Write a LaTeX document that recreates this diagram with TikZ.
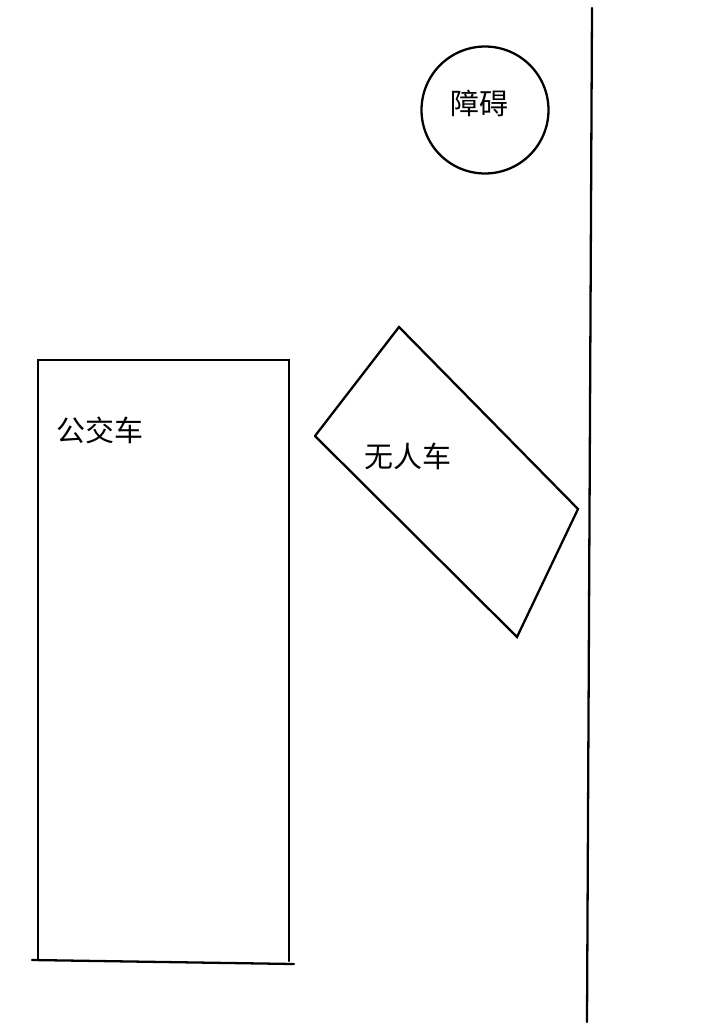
\documentclass[tikz,border=0pt]{standalone}
\usepackage{fontspec}
\newfontfamily\cjk{Noto Sans CJK SC}
\usepackage{tikz}

\begin{document}
\begin{tikzpicture}[x=0.02cm,y=-0.02cm]
			\tikzstyle{outline} = [line width=1.3pt, line cap=round]
			\tikzstyle{label} = [font=\cjk\fontsize{16.5}{20}\selectfont, inner sep=0pt]
			\tikzstyle{obstacle} = [circle, draw, line width=1.3pt, minimum size=2.54cm, inner sep=0pt]
			
			\useasboundingbox (0,0) rectangle (719,1024);
			
			% road edge
			\coordinate (roadtop) at (592,8);
			\coordinate (roadbottom) at (587,1022);
			\draw[outline](roadtop) to (roadbottom);
			
			\node[obstacle](obstacle) at (485,110) {};
			\node[label](obstaclelabel) at (479,103) {障碍};
			
			% bus
			\coordinate (bustl) at (38,360);
			\coordinate (bustr) at (289,360);
			\coordinate (busbl) at (38,960);
			\coordinate (busbr) at (289,961);
			\coordinate (busbaseL) at (32,960);
			\coordinate (busbaseR) at (294,964);
			\draw[outline](busbl) to (bustl) to (bustr) to (busbr);
			\draw[outline](busbaseL) to (busbaseR);
			\node[label](buslabel) at (100,430) {公交车};
			
			% driverless car
			\coordinate (carleft) at (315,436);
			\coordinate (cartop) at (399,327);
			\coordinate (carright) at (578,509);
			\coordinate (carbottom) at (517,637);
			\draw[outline](carleft) to (cartop) to (carright) to (carbottom) to (carleft);
			\node[label](carlabel) at (408,456) {无人车};
			
			\end{tikzpicture}
\end{document}
